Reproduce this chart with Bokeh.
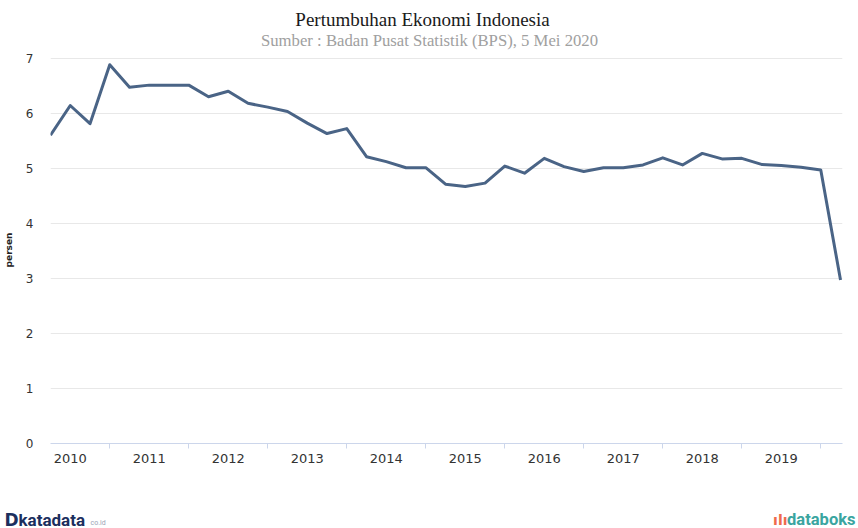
from bokeh.plotting import figure
from bokeh.models import Range1d, FixedTicker, Label
from bokeh.layouts import column
from bokeh.embed import file_html
from bokeh.resources import INLINE

# Quarterly GDP growth (yoy, %), 2010 Q1 .. 2020 Q1
growth = [5.60, 6.14, 5.81, 6.88,
          6.47, 6.51, 6.51, 6.51,
          6.30, 6.40, 6.18, 6.11,
          6.03, 5.82, 5.63, 5.72,
          5.21, 5.12, 5.01, 5.01,
          4.71, 4.67, 4.73, 5.04,
          4.91, 5.18, 5.03, 4.94,
          5.01, 5.01, 5.06, 5.19,
          5.06, 5.27, 5.17, 5.18,
          5.07, 5.05, 5.02, 4.97,
          2.97]
years = ["2010", "2011", "2012", "2013", "2014", "2015", "2016", "2017", "2018", "2019"]
y_ticks = [0, 1, 2, 3, 4, 5, 6, 7]

idx = list(range(len(growth)))
label_pos = [1 + 4 * k for k in range(len(years))]
sep_pos = [3 + 4 * k for k in range(len(years))]

W = 858


def blank(height):
    f = figure(width=W, height=height, output_backend="svg", toolbar_location=None,
               x_range=Range1d(0, 1), y_range=Range1d(0, 1),
               x_axis_location=None, y_axis_location=None, min_border=0,
               frame_align=False)
    f.outline_line_color = None
    f.xgrid.grid_line_color = None
    f.ygrid.grid_line_color = None
    return f


# ---- title block
top = blank(50)
top.add_layout(Label(x=422, y=31, x_units="screen", y_units="screen",
                     text="Pertumbuhan Ekonomi Indonesia", text_align="center",
                     text_baseline="middle", text_font="Liberation Serif",
                     text_font_size="19px", text_color="#1a1a1a"))
top.add_layout(Label(x=429, y=10, x_units="screen", y_units="screen",
                     text="Sumber : Badan Pusat Statistik (BPS), 5 Mei 2020",
                     text_align="center", text_baseline="middle",
                     text_font="Liberation Serif", text_font_size="16.7px",
                     text_color="#a0a0a0"))

# ---- main chart
p = figure(width=W, height=445, output_backend="svg", toolbar_location=None,
           x_range=Range1d(0, 40.1), y_range=Range1d(0, 7.03),
           min_border_left=50, min_border_right=16, min_border_top=6, min_border_bottom=52)
p.outline_line_color = None

p.line(idx, growth, line_color="#4a6486", line_width=3, line_join="round")

xa = p.xaxis[0]
xa.ticker = FixedTicker(ticks=label_pos, minor_ticks=sep_pos)
xa.major_label_overrides = {pos: y for pos, y in zip(label_pos, years)}
xa.major_tick_line_color = None
xa.major_tick_out = 0
xa.major_tick_in = 0
xa.minor_tick_in = 0
xa.minor_tick_out = 5
xa.minor_tick_line_color = "#ccd6eb"
xa.axis_line_color = "#ccd6eb"
xa.major_label_standoff = 5
xa.major_label_text_font = "DejaVu Sans"
xa.major_label_text_font_size = "13px"
xa.major_label_text_color = "#333333"

ya = p.yaxis[0]
ya.ticker = FixedTicker(ticks=y_ticks)
ya.axis_line_color = None
ya.major_tick_line_color = None
ya.minor_tick_line_color = None
ya.major_label_standoff = 11
ya.major_label_text_font = "DejaVu Sans"
ya.major_label_text_font_size = "12px"
ya.major_label_text_color = "#333333"
ya.axis_label = "persen"
ya.axis_label_text_font = "DejaVu Sans"
ya.axis_label_text_font_size = "9px"
ya.axis_label_text_font_style = "bold"
ya.axis_label_text_color = "#222222"
ya.axis_label_standoff = 9

p.xgrid.grid_line_color = None
p.ygrid.grid_line_color = "#e8e8e8"
p.ygrid.ticker = FixedTicker(ticks=y_ticks)

# ---- logo strip
bot = blank(33)
bot.add_layout(Label(x=4, y=9, x_units="screen", y_units="screen",
                     text="D", text_baseline="middle", text_font="DejaVu Sans",
                     text_font_style="bold", text_font_size="17px", text_color="#1b2f5e"))
bot.add_layout(Label(x=18, y=9, x_units="screen", y_units="screen",
                     text="katadata", text_baseline="middle", text_font="Roboto",
                     text_font_style="bold", text_font_size="17px", text_color="#1b2f5e"))
bot.add_layout(Label(x=90, y=6, x_units="screen", y_units="screen",
                     text="co.id", text_baseline="middle", text_font="Roboto",
                     text_font_size="7px", text_color="#9aa3b5"))
bot.add_layout(Label(x=855, y=9, x_units="screen", y_units="screen",
                     text="databoks", text_align="right", text_baseline="middle",
                     text_font="Roboto", text_font_style="bold",
                     text_font_size="16.5px", text_color="#3aa5a0"))
bot.add_layout(Label(x=787, y=9, x_units="screen", y_units="screen",
                     text="ılı", text_align="right", text_baseline="middle",
                     text_font="DejaVu Sans", text_font_style="bold",
                     text_font_size="14px", text_color="#ef6a4c"))

layout = column(top, p, bot, spacing=0)
open("out.html", "w").write(file_html(layout, INLINE))
